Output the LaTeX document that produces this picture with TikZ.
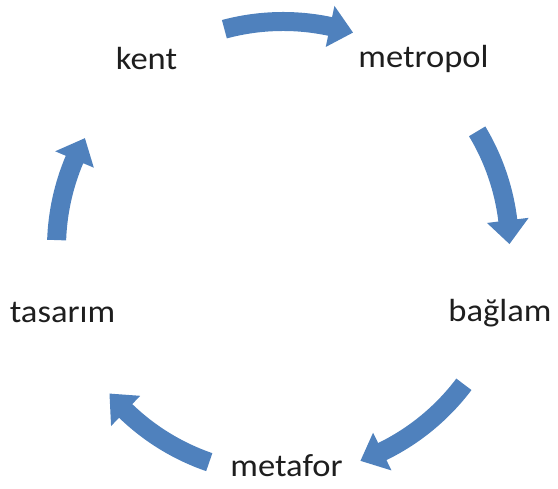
\documentclass[tikz,border=0pt]{standalone}
\usepackage{fontspec}
\setmainfont{Carlito}[FakeStretch=1.08]
\definecolor{arrowblue}{RGB}{79,129,189}
\definecolor{labeltext}{RGB}{30,30,30}
\tikzset{lbl/.style={font=\fontsize{32}{37}\selectfont, text=labeltext, inner sep=0pt, anchor=base}}
\newcommand\Rmid{226.5pt}
\newcommand\Rout{236pt}
\newcommand\Rin{217pt}
\newcommand\Rhout{247.5pt}
\newcommand\Rhin{205.5pt}
\newcommand\cycarrow[2]{%
  \pgfmathsetmacro\hb{#2+6}%
  \fill[arrowblue] (#1:\Rout) arc[start angle=#1,end angle=\hb,radius=\Rout]
    -- (\hb:\Rhout) -- (#2:\Rmid) -- (\hb:\Rhin) -- (\hb:\Rin)
    arc[start angle=\hb,end angle=#1,radius=\Rin] -- cycle;}
\begin{document}
\begin{tikzpicture}[x=1pt,y=1pt]
\useasboundingbox (0,0) rectangle (558,489);
\node[lbl] (kent) at (146.5,419) {kent};
\node[lbl] (metropol) at (423.5,421) {metropol};
\node[lbl] (baglam) at (500,167) {bağlam};
\node[lbl] (metafor) at (286.5,12) {metafor};
\node[lbl] (tasarim) at (62.5,166) {tasarım};
\begin{scope}[shift={(283,241)}]
\cycarrow{105}{72}
\cycarrow{31}{1}
\cycarrow{-37}{-70}
\cycarrow{-109}{-140}
\cycarrow{178}{151}
\end{scope}
\end{tikzpicture}
\end{document}
